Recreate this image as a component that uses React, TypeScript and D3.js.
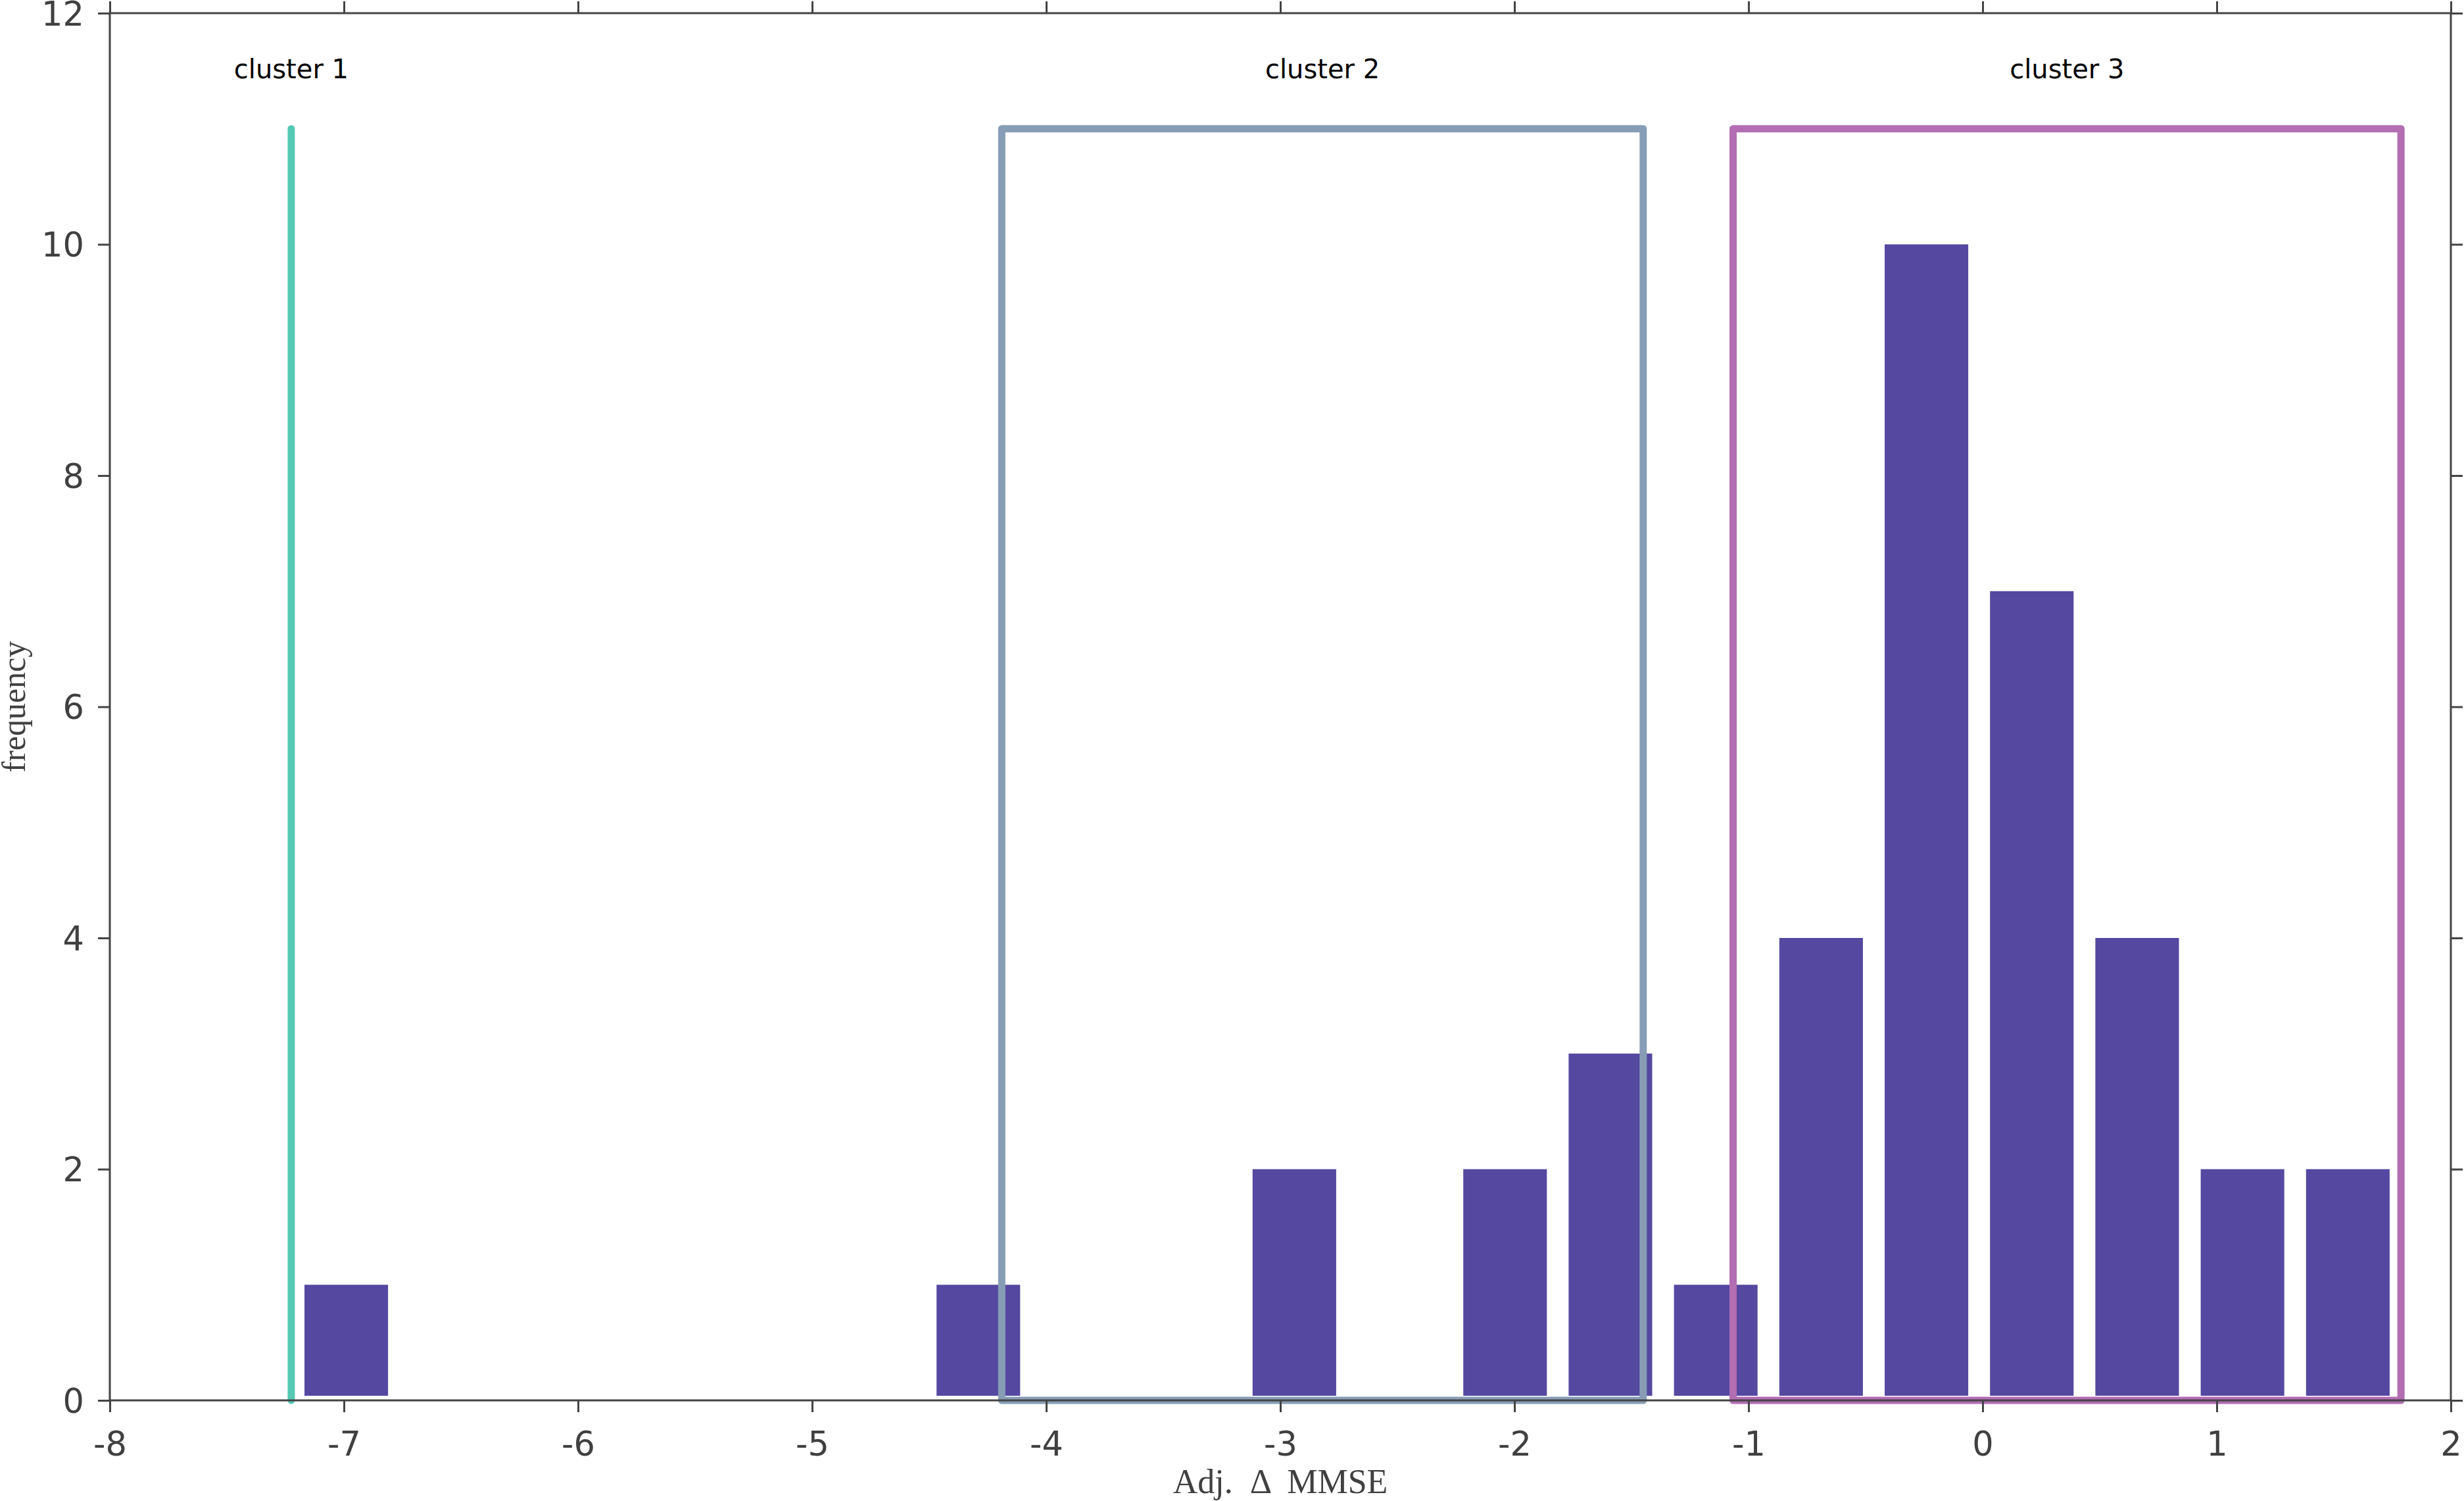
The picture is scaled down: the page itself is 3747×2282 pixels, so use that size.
import React, { useEffect, useRef } from 'react'
import * as d3 from 'd3'

// histogram bins (centre of each bin) and their counts
const binCenters = [
  -6.99, -6.54, -6.09, -5.64, -5.19, -4.74, -4.29, -3.84, -3.39, -2.94,
  -2.49, -2.04, -1.59, -1.14, -0.69, -0.24, 0.21, 0.66, 1.11, 1.56
]
const binCounts = [1, 0, 0, 0, 0, 0, 1, 0, 0, 2, 0, 2, 3, 1, 4, 10, 7, 4, 2, 2]
const barWidth = 0.357

// cluster outlines
const clusterNames = ['cluster 1', 'cluster 2', 'cluster 3']
const clusterLo = [-7.225, -4.19, -1.066]
const clusterHi = [-7.225, -1.45, 1.787]
const clusterTop = 11
const clusterLabelY = 11.5
const clusterColors = ['#55c9b4', '#879db5', '#b36db3']

const xTicks = [-8, -7, -6, -5, -4, -3, -2, -1, 0, 1, 2]
const yTicks = [0, 2, 4, 6, 8, 10, 12]

const W = 3747
const H = 2282

const App: React.FC = () => {
  const svgRef = useRef<SVGSVGElement>(null)

  useEffect(() => {
    document.body.style.margin = '0'
    if (!svgRef.current) return
    const svg = d3.select(svgRef.current)
    svg.selectAll('*').remove()

    const left = 167
    const right = 3727
    const top = 20
    const bottom = 2129

    const x = d3.scaleLinear().domain([-8, 2]).range([left, right])
    const y = d3.scaleLinear().domain([0, 12]).range([bottom, top])

    const axisColor = '#444444'
    const tickFont = '51px "DejaVu Sans", sans-serif'
    // plain hyphen for negatives, like the original
    const fmt = (d: d3.NumberValue) => String(+d)

    // bars
    const bins = binCenters.map((c, i) => ({ c, n: binCounts[i] })).filter(d => d.n > 0)
    svg.append('g')
      .selectAll('rect')
      .data(bins)
      .enter()
      .append('rect')
      .attr('x', d => x(d.c - barWidth / 2))
      .attr('width', d => x(d.c + barWidth / 2) - x(d.c - barWidth / 2))
      .attr('y', d => y(d.n))
      .attr('height', d => y(0) - y(d.n) - 7)
      .attr('fill', '#5448a0')

    // cluster boxes / line
    clusterNames.forEach((name, i) => {
      const lo = clusterLo[i]
      const hi = clusterHi[i]
      if (lo === hi) {
        svg.append('line')
          .attr('x1', x(lo)).attr('x2', x(lo))
          .attr('y1', y(0)).attr('y2', y(clusterTop))
          .attr('stroke', clusterColors[i])
          .attr('stroke-width', 11)
          .attr('stroke-linecap', 'round')
      } else {
        svg.append('rect')
          .attr('x', x(lo))
          .attr('y', y(clusterTop))
          .attr('width', x(hi) - x(lo))
          .attr('height', y(0) - y(clusterTop))
          .attr('fill', 'none')
          .attr('stroke', clusterColors[i])
          .attr('stroke-width', 11)
          .attr('stroke-linejoin', 'round')
      }
      svg.append('text')
        .attr('x', x((lo + hi) / 2))
        .attr('y', y(clusterLabelY))
        .attr('text-anchor', 'middle')
        .attr('dominant-baseline', 'middle')
        .style('font', '40px "DejaVu Sans", sans-serif')
        .style('fill', '#000')
        .text(name)
    })

    // axes box
    svg.append('rect')
      .attr('x', left).attr('y', top)
      .attr('width', right - left).attr('height', bottom - top)
      .attr('fill', 'none')
      .attr('stroke', axisColor)
      .attr('stroke-width', 3)

    const styleAxis = (g: d3.Selection<SVGGElement, unknown, null, undefined>) => {
      g.select('.domain').remove()
      g.selectAll('line').attr('stroke', axisColor).attr('stroke-width', 3)
      g.selectAll('text').style('font', tickFont).style('fill', '#404040')
    }

    const gx = svg.append('g')
      .attr('transform', `translate(0,${bottom})`)
      .call(d3.axisBottom(x).tickValues(xTicks).tickSize(18).tickFormat(fmt))
    styleAxis(gx)
    gx.selectAll('text').attr('y', 84).attr('dy', null)

    const gxTop = svg.append('g')
      .attr('transform', `translate(0,${top})`)
      .call(d3.axisTop(x).tickValues(xTicks).tickSize(18).tickFormat(() => ''))
    styleAxis(gxTop)

    const gy = svg.append('g')
      .attr('transform', `translate(${left},0)`)
      .call(d3.axisLeft(y).tickValues(yTicks).tickSize(18).tickFormat(fmt))
    styleAxis(gy)
    gy.selectAll('text').attr('x', -39).attr('dy', '0.36em')

    const gyRight = svg.append('g')
      .attr('transform', `translate(${right},0)`)
      .call(d3.axisRight(y).tickValues(yTicks).tickSize(18).tickFormat(() => ''))
    styleAxis(gyRight)

    // axis titles
    svg.append('text')
      .attr('x', (left + right) / 2)
      .attr('y', 2270)
      .attr('text-anchor', 'middle')
      .style('font', '52px "Liberation Serif", serif')
      .style('fill', '#404040')
      .style('white-space', 'pre')
      .text('Adj.  Δ  MMSE')

    svg.append('text')
      .attr('transform', `translate(38,${(top + bottom) / 2}) rotate(-90)`)
      .attr('text-anchor', 'middle')
      .style('font', '50px "Liberation Serif", serif')
      .style('fill', '#404040')
      .text('frequency')
  }, [])

  return <svg ref={svgRef} width={W} height={H} style={{ display: 'block', background: '#fff' }} />
}

export default App
